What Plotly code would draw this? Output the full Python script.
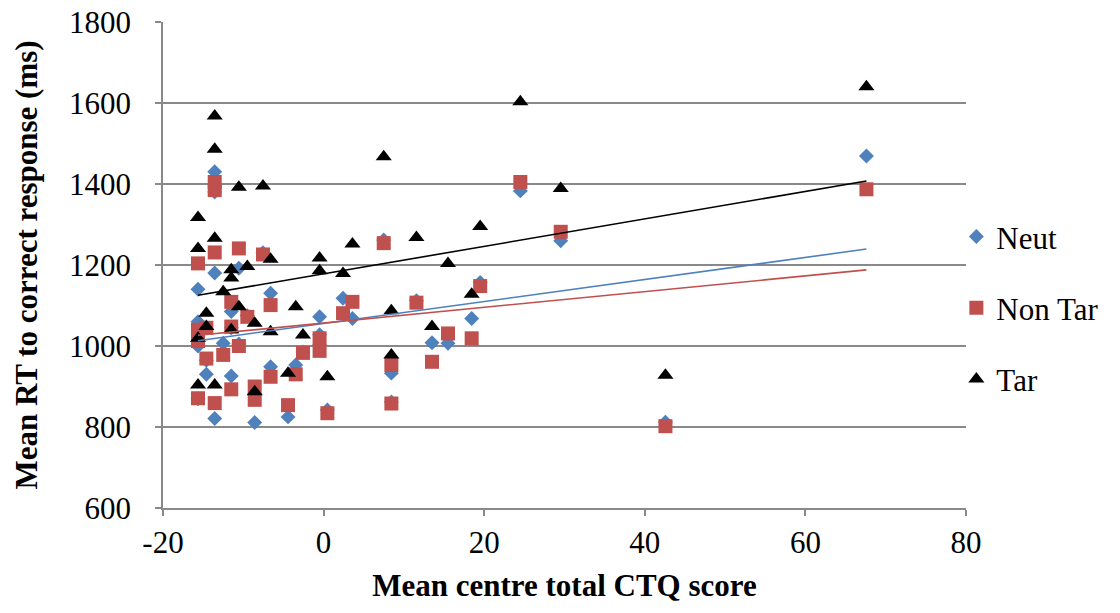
import numpy as np
import plotly.graph_objects as go

# ---- data ----
neut_x = [-15.64, -15.64, -15.64, -15.64, -14.6, -14.6, -13.56, -13.56, -13.56, -13.56,
          -12.5, -11.5, -11.5, -11.5, -10.55, -10.55, -9.5, -8.58, -8.58, -7.55,
          -6.6, -6.6, -4.43, -3.47, -2.57, -0.5, -0.5, 0.47, 2.42, 3.59,
          7.49, 8.44, 8.44, 11.56, 13.5, 15.49, 18.44, 19.5, 24.5, 29.53,
          42.57, 67.6]
neut_y = [1140, 1060, 1000, 870, 965, 930, 1430, 1380, 1180, 821,
          1007, 1045, 1085, 926, 1192, 1005, 1075, 880, 811, 1230,
          1130, 949, 825, 953, 985, 1072, 1028, 842, 1118, 1068,
          1262, 933, 862, 1112, 1008, 1007, 1068, 1157, 1383, 1260,
          812, 1469]

nontar_x = [-15.64, -15.64, -15.64, -15.64, -14.6, -14.6, -13.56, -13.56, -13.56, -13.56,
            -12.5, -11.5, -11.5, -11.5, -10.55, -10.55, -9.5, -8.58, -8.58, -7.55,
            -6.6, -6.6, -4.43, -3.47, -2.57, -0.5, -0.5, 0.47, 2.42, 3.59,
            7.49, 8.44, 8.44, 11.56, 13.5, 15.49, 18.44, 19.5, 24.5, 29.53,
            42.57, 67.6]
nontar_y = [1204, 1040, 1012, 871, 1045, 969, 1405, 1385, 1231, 859,
            978, 1109, 1048, 893, 1241, 1000, 1072, 900, 867, 1226,
            1101, 924, 854, 930, 983, 1019, 988, 834, 1081, 1109,
            1254, 953, 858, 1107, 961, 1031, 1019, 1148, 1405, 1282,
            802, 1387]

tar_x = [-15.64, -15.64, -15.64, -15.64, -14.6, -14.6, -13.56, -13.56, -13.56, -13.56,
         -12.5, -11.5, -11.5, -11.5, -10.55, -10.55, -9.5, -8.58, -8.58, -7.55,
         -6.6, -6.6, -4.43, -3.47, -2.57, -0.5, -0.5, 0.47, 2.42, 3.59,
         7.49, 8.44, 8.44, 11.56, 13.5, 15.49, 18.44, 19.5, 24.5, 29.53,
         42.57, 67.6]
tar_y = [1317, 1241, 1019, 904, 1081, 1048, 1568, 1486, 1266, 904,
         1134, 1188, 1168, 1040, 1392, 1097, 1196, 1056, 887, 1395,
         1214, 1035, 933, 1097, 1027, 1217, 1186, 924, 1179, 1252,
         1467, 1087, 978, 1268, 1048, 1204, 1128, 1295, 1603, 1389,
         928, 1640]

series_names = ["Neut", "Non Tar", "Tar"]
x_ticks = [-20, 0, 20, 40, 60, 80]
y_ticks = [600, 800, 1000, 1200, 1400, 1600, 1800]

# ---- styling ----
FONT = "Liberation Serif, Times New Roman, serif"
GRID = "#898989"
colors = ["#4F81BD", "#C0504D", "#000000"]
symbols = ["diamond", "square", "triangle-up"]
sizes = [11.5, 14, 14]

fig = go.Figure()
data = [(neut_x, neut_y), (nontar_x, nontar_y), (tar_x, tar_y)]

for i, (xs, ys) in enumerate(data):
    fig.add_trace(go.Scatter(
        x=xs, y=ys, mode="markers", name=series_names[i],
        legendgroup=series_names[i],
        marker=dict(symbol=symbols[i], size=sizes[i], color=colors[i],
                    line=dict(width=0)),
    ))

# linear trendlines computed from the data
for i, (xs, ys) in enumerate(data):
    k, b = np.polyfit(xs, ys, 1)
    x0, x1 = min(xs), max(xs)
    fig.add_trace(go.Scatter(
        x=[x0, x1], y=[k * x0 + b, k * x1 + b], mode="lines",
        line=dict(color=colors[i], width=1.6), showlegend=False,
        hoverinfo="skip",
    ))

fig.update_layout(
    width=1120, height=613, autosize=False,
    paper_bgcolor="white", plot_bgcolor="white",
    margin=dict(l=163, r=154, t=22, b=105, autoexpand=False),
    font=dict(family=FONT, size=31, color="black"),
    legend=dict(x=0.988, xanchor="left", y=0.412, yanchor="middle",
                font=dict(family=FONT, size=31, color="black"),
                tracegroupgap=28, bgcolor="rgba(0,0,0,0)",
                itemsizing="trace"),
    showlegend=True,
)

fig.update_xaxes(
    range=[-20, 80], tickvals=x_ticks, ticktext=[str(v) for v in x_ticks],
    showgrid=False, zeroline=False, showline=True, linecolor=GRID, linewidth=1.5,
    ticks="outside", ticklen=6, tickcolor=GRID, tickwidth=1.5,
    automargin=False,
    tickfont=dict(family=FONT, size=31, color="black"),
    title=dict(text="<b>Mean centre total CTQ score</b>", standoff=15,
               font=dict(family=FONT, size=31, color="black")),
)
fig.update_yaxes(
    range=[600, 1800], tickvals=y_ticks, ticktext=[str(v) for v in y_ticks],
    showgrid=True, gridcolor=GRID, gridwidth=1.5,
    zeroline=False, showline=True, linecolor=GRID, linewidth=1.5,
    ticks="outside", ticklen=6, tickcolor=GRID, tickwidth=1.5,
    ticklabelstandoff=18, automargin=False,
    tickfont=dict(family=FONT, size=31, color="black"),
    title=dict(text="<b>Mean RT to correct response (ms)</b>", standoff=22,
               font=dict(family=FONT, size=31, color="black")),
)

# remove the browser's default 8px body margin so the figure sits at (0, 0)
fig.write_html("out.html", config={"displayModeBar": False},
               post_script="document.body.style.margin='0px';")
